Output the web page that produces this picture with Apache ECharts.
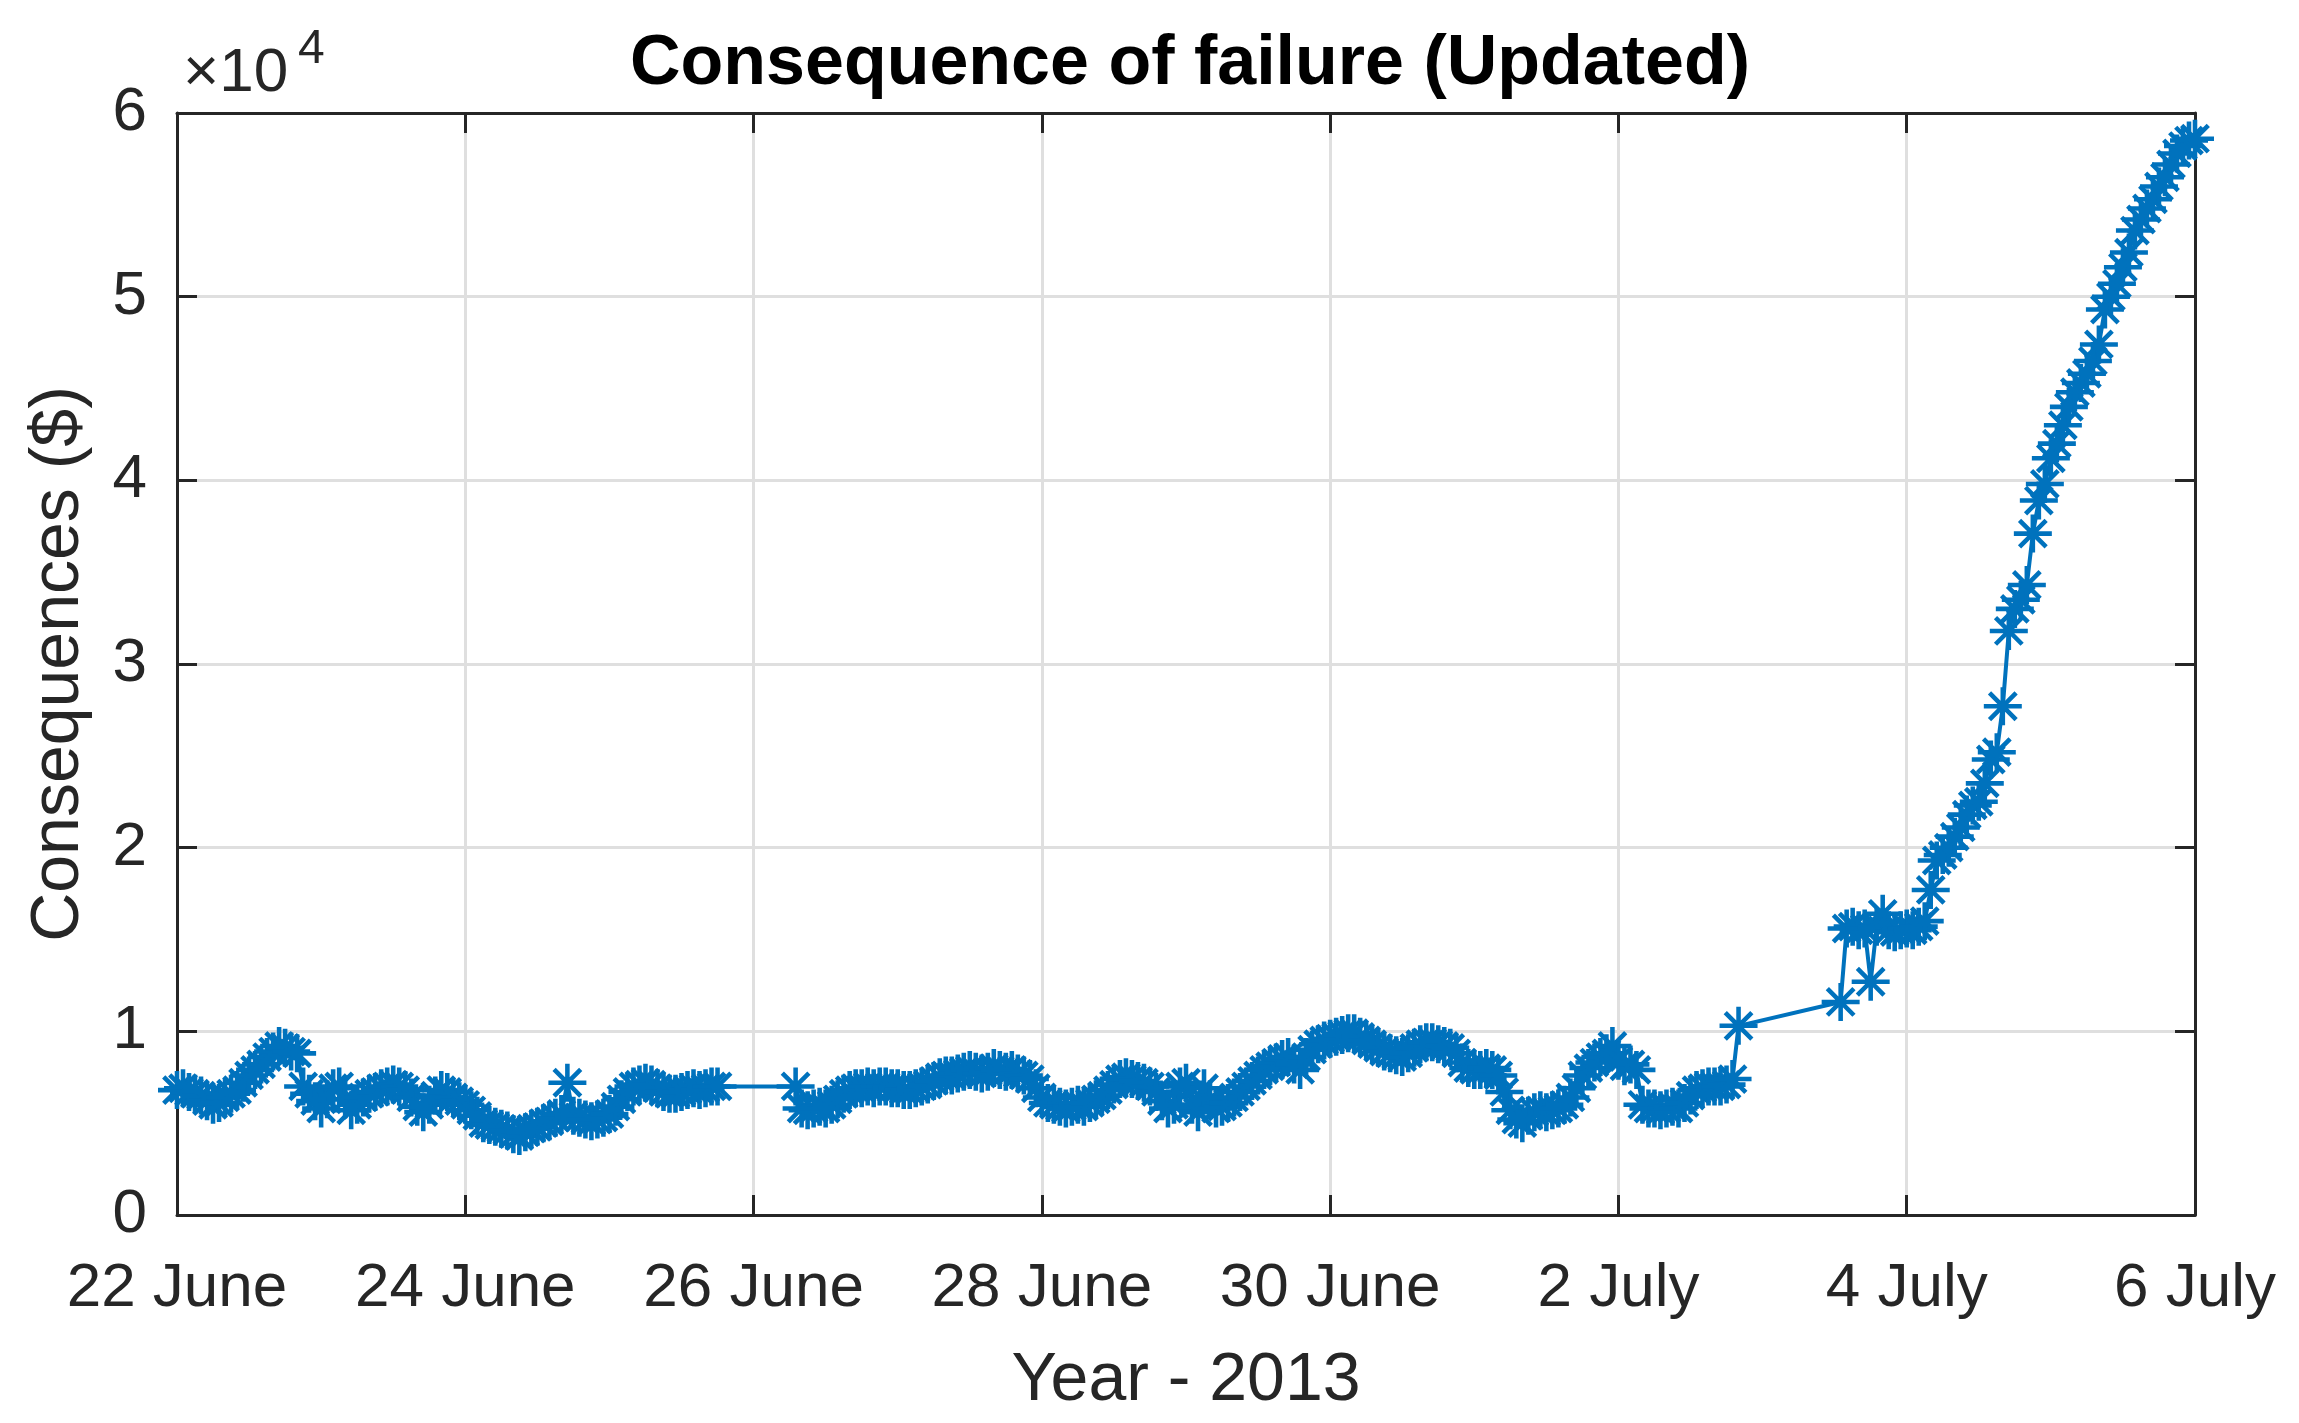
<!DOCTYPE html>
<html><head><meta charset="utf-8">
<script src="https://cdn.jsdelivr.net/npm/echarts@6/dist/echarts.min.js"></script>
<style>html,body{margin:0;padding:0;background:#fff}#c{width:2299px;height:1423px}</style>
</head><body><div id="c"></div>
<script>
// ---- data ----
// x: hours since 22 June 2013 00:00 ; y: consequences in thousands of $
const xTickLabels = ['22 June', '24 June', '26 June', '28 June', '30 June', '2 July', '4 July', '6 July'];
const yTickLabels = ['0', '1', '2', '3', '4', '5', '6'];

const segAStartHour = 0;
const segAValuesK = [
  6.8, 6.9, 6.7, 6.6, 6.5, 6.2, 6.0, 6.1, 6.4, 6.6, 6.8, 7.2, 7.6, 7.9, 8.2, 8.6, 8.9, 9.2, 9.1, 8.9, 8.8, 7.0, 6.6, 6.2,
  5.8, 6.3, 6.9, 7.0, 6.3, 5.7, 6.0, 6.4, 6.6, 6.7, 6.9, 7.0, 7.1, 7.0, 6.8, 6.4, 5.9, 5.6, 6.0, 6.5, 6.8, 6.7, 6.4, 6.2,
  6.0, 5.7, 5.4, 5.0, 4.9, 4.8, 4.7, 4.6, 4.4, 4.3, 4.5, 4.7, 4.8, 5.0, 5.1, 5.3, 5.5, 7.2, 5.4, 5.3, 5.2, 5.1, 5.2, 5.3,
  5.5, 5.9, 6.3, 6.7, 7.0, 7.1, 7.2, 7.1, 6.9, 6.7, 6.6, 6.6, 6.7, 6.8, 6.9, 6.8, 6.9, 7.0, 7.0
];

const segBStartHour = 103;
const segBValuesK = [
  7.0, 5.8, 5.7, 5.8, 5.9, 5.8, 6.0, 6.3, 6.6, 6.8, 6.9, 6.9, 7.0, 6.9, 7.0, 7.0, 6.9,
  6.9, 6.8, 6.8, 6.9, 7.0, 7.1, 7.3, 7.5, 7.6, 7.6, 7.7, 7.8, 7.9, 7.8, 7.7, 7.8, 8.0, 7.9, 7.8, 7.9, 7.7, 7.6, 7.4, 6.9,
  6.4, 6.1, 6.0, 5.9, 5.8, 5.9, 6.0, 5.9, 6.1, 6.3, 6.5, 6.8, 7.1, 7.4, 7.5, 7.4, 7.3, 7.2, 7.0, 6.7, 6.2, 5.8, 6.0, 7.0,
  7.2, 6.0, 5.6, 6.9, 6.3, 5.8, 5.9, 6.1, 6.4, 6.7, 7.0, 7.3, 7.6, 7.9, 8.1, 8.3, 8.5, 8.6, 8.2, 7.9, 8.6, 9.0, 9.3, 9.5,
  9.6, 9.7, 9.8, 9.9, 9.9, 9.7, 9.5, 9.3, 9.1, 8.9, 8.8, 8.7, 8.6, 8.8, 9.1, 9.3, 9.4, 9.4, 9.3, 9.2, 9.1, 8.8, 8.3, 8.0,
  7.9, 7.9, 8.0, 7.9, 7.6, 6.7, 5.7, 5.2, 5.0, 5.4, 5.6, 5.7, 5.6, 5.7, 5.8, 6.0, 6.4, 6.9, 7.6, 8.0, 8.3, 8.6, 8.8, 9.2,
  8.4, 8.1, 8.2, 7.9, 6.0, 5.8, 5.8, 5.7, 5.8, 5.9, 5.8, 6.1, 6.5, 6.8, 6.9, 7.0, 7.0, 7.0, 7.1, 7.4, 10.3
];

const segCStartHour = 277;
const segCValuesK = [
  11.6, 15.6, 15.7, 15.5, 15.6, 12.7, 15.7, 16.4, 15.5, 15.4,
  15.5, 15.6, 15.5, 15.7, 16.0, 17.7, 19.3, 19.6, 20.0, 20.6,
  21.1, 21.8, 22.3, 22.5, 23.5, 24.8, 25.2, 27.7, 31.8, 33.0,
  33.5, 34.3, 37.1, 38.9, 39.8, 41.2, 42.0, 43.0, 44.0, 44.8,
  45.3, 45.8, 46.5, 47.4, 49.3, 50.0, 50.7, 51.6, 52.4, 53.6,
  54.2, 54.8, 55.3, 56.0, 56.5, 57.2, 57.8, 58.2, 58.5, 58.6
];

// ---- build ----
const segments = [[segAStartHour, segAValuesK], [segBStartHour, segBValuesK], [segCStartHour, segCValuesK]];
const seriesData = [];
segments.forEach(([start, vals]) => vals.forEach((v, i) => seriesData.push([start + i, v * 1000])));

const FONT = '"Liberation Sans", Arial, Helvetica, sans-serif';
const AXIS_COLOR = '#262626';
const BLUE = '#0072BD';
const asterisk = 'path://M0,44L100,44L100,56L0,56Z' +
  'M44,0L56,0L56,100L44,100Z' +
  'M19.24,10.76L89.24,80.76L80.76,89.24L10.76,19.24Z' +
  'M80.76,10.76L89.24,19.24L19.24,89.24L10.76,80.76Z';

const tickStyle = { show: true, inside: true, length: 20, lineStyle: { color: AXIS_COLOR, width: 3 } };
const lineStyleAx = { show: true, onZero: false, lineStyle: { color: AXIS_COLOR, width: 3 } };
const gridLine = { show: true, lineStyle: { color: '#dfdfdf', width: 3 } };

const chart = echarts.init(document.getElementById('c'), null, { renderer: 'canvas' });
chart.setOption({
  animation: false,
  backgroundColor: '#ffffff',
  title: {
    text: 'Consequence of failure (Updated)',
    left: 1185, top: 25, textAlign: 'center',
    textStyle: { fontFamily: FONT, fontSize: 70, fontWeight: 'bold', color: '#000000' }
  },
  grid: { left: 177, right: 104, top: 113, bottom: 208, containLabel: false, outerBoundsMode: 'none' },
  xAxis: [{
    type: 'value', position: 'bottom', min: 0, max: 336, interval: 48,
    axisLine: lineStyleAx, axisTick: tickStyle, splitLine: gridLine,
    axisLabel: {
      margin: 43, fontFamily: FONT, fontSize: 62, color: AXIS_COLOR,
      formatter: v => xTickLabels[Math.round(v / 48)]
    },
    name: 'Year - 2013', nameLocation: 'middle', nameGap: 132,
    nameTextStyle: { fontFamily: FONT, fontSize: 68, color: AXIS_COLOR }
  }, {
    type: 'value', position: 'top', min: 0, max: 336, interval: 48,
    axisLine: lineStyleAx, axisTick: tickStyle, splitLine: { show: false }, axisLabel: { show: false }
  }],
  yAxis: [{
    type: 'value', position: 'left', min: 0, max: 60000, interval: 10000,
    axisLine: lineStyleAx, axisTick: tickStyle, splitLine: gridLine,
    axisLabel: {
      margin: 30, fontFamily: FONT, fontSize: 62, color: AXIS_COLOR,
      formatter: v => yTickLabels[Math.round(v / 10000)]
    },
    name: 'Consequences ($)', nameLocation: 'middle', nameGap: 84,
    nameTextStyle: { fontFamily: FONT, fontSize: 68, color: AXIS_COLOR }
  }, {
    type: 'value', position: 'right', min: 0, max: 60000, interval: 10000,
    axisLine: lineStyleAx, axisTick: tickStyle, splitLine: { show: false }, axisLabel: { show: false }
  }],
  graphic: [
    { type: 'text', x: 183, y: 74, style: { text: '×10', fontSize: 62, fontFamily: FONT, fill: AXIS_COLOR, verticalAlign: 'middle', align: 'left' } },
    { type: 'text', x: 298, y: 50, style: { text: '4', fontSize: 48, fontFamily: FONT, fill: AXIS_COLOR, verticalAlign: 'middle', align: 'left' } }
  ],
  series: [{
    type: 'line', xAxisIndex: 0, yAxisIndex: 0,
    data: seriesData,
    showAllSymbol: true,
    symbol: asterisk, symbolSize: 38, symbolKeepAspect: true,
    itemStyle: { color: BLUE, borderWidth: 0 },
    lineStyle: { color: BLUE, width: 4 },
    emphasis: { disabled: true },
    z: 3
  }]
});
</script>
</body></html>
